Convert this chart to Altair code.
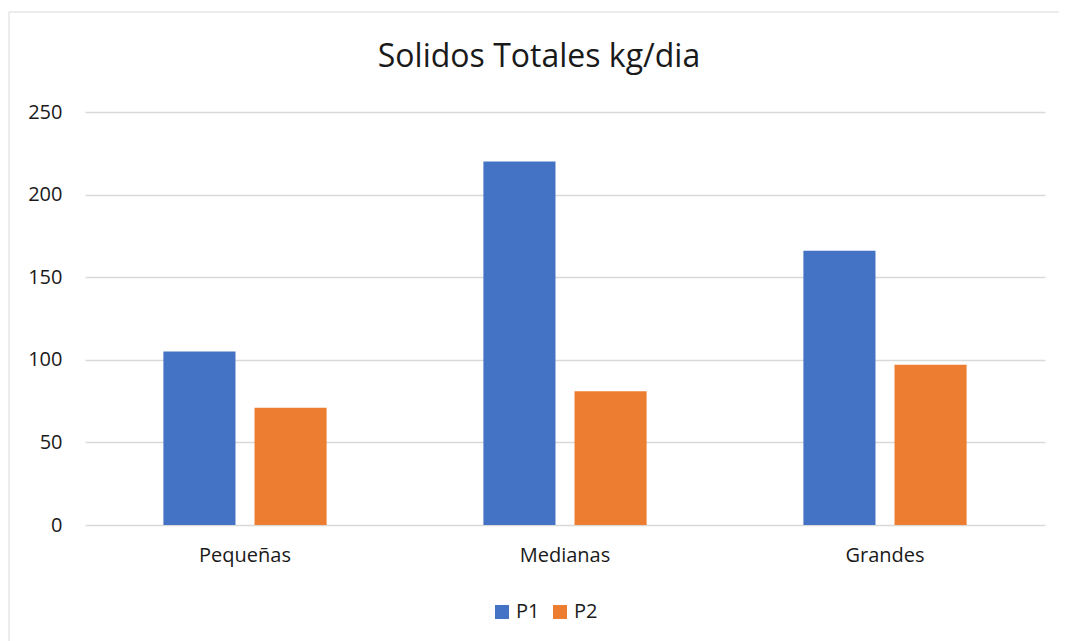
import altair as alt
import pandas as pd

categories = ["Pequeñas", "Medianas", "Grandes"]
p1 = [105, 220, 166]
p2 = [71, 81, 97]
series = ["P1", "P2"]
colors = ["#4472C4", "#ED7D31"]
y_ticks = [0, 50, 100, 150, 200, 250]
title_text = "Solidos Totales kg/dia"

rows = []
for c, a, b in zip(categories, p1, p2):
    rows.append({"cat": c, "serie": "P1", "val": a})
    rows.append({"cat": c, "serie": "P2", "val": b})
df = pd.DataFrame(rows)

FONT = "Open Sans"
TXT = "#1a1a1a"

bars = alt.Chart(df).mark_bar().encode(
    x=alt.X("cat:N", sort=categories, title=None,
            scale=alt.Scale(paddingInner=0.49, paddingOuter=0.245),
            axis=alt.Axis(labelAngle=0, ticks=False, domain=False, labelFontSize=20,
                          labelPadding=20, labelColor=TXT, labelFont=FONT)),
    xOffset=alt.XOffset("serie:N", scale=alt.Scale(paddingInner=0.209, paddingOuter=0)),
    y=alt.Y("val:Q", title=None,
            scale=alt.Scale(domain=[0, 250], nice=False),
            axis=alt.Axis(values=y_ticks, ticks=False, domain=False, labelFontSize=20,
                          labelPadding=23, labelColor=TXT, labelFont=FONT,
                          gridColor="#d9d9d9", gridWidth=1.5)),
    color=alt.Color("serie:N", scale=alt.Scale(domain=series, range=colors),
                    legend=alt.Legend(title=None, orient="none", direction="horizontal",
                                      legendX=407, legendY=490, symbolType="square",
                                      symbolSize=196, symbolStrokeWidth=0, labelFontSize=20,
                                      labelFont=FONT, labelColor=TXT, labelOffset=4,
                                      columnPadding=10, padding=0)),
)

border = alt.Chart(alt.Data(values=[{}])).mark_rect(
    fill=None, stroke="#d9d9d9", strokeWidth=1
).encode(
    x=alt.value(-76), x2=alt.value(1010), y=alt.value(-100), y2=alt.value(560)
)

title = alt.Chart(alt.Data(values=[{"t": title_text}])).mark_text(
    font=FONT, fontSize=32, color=TXT, align="center", baseline="alphabetic"
).encode(
    text="t:N", x=alt.value(454), y=alt.value(-45)
)

chart = alt.layer(border, bars, title).properties(
    width=960, height=413,
    background="white",
    autosize=alt.AutoSizeParams(type="none"),
    padding={"left": 77, "top": 104, "right": 14, "bottom": 116},
).configure_view(stroke="transparent", strokeWidth=0)

chart.save("out.html", embed_options={"renderer": "svg", "actions": False})
